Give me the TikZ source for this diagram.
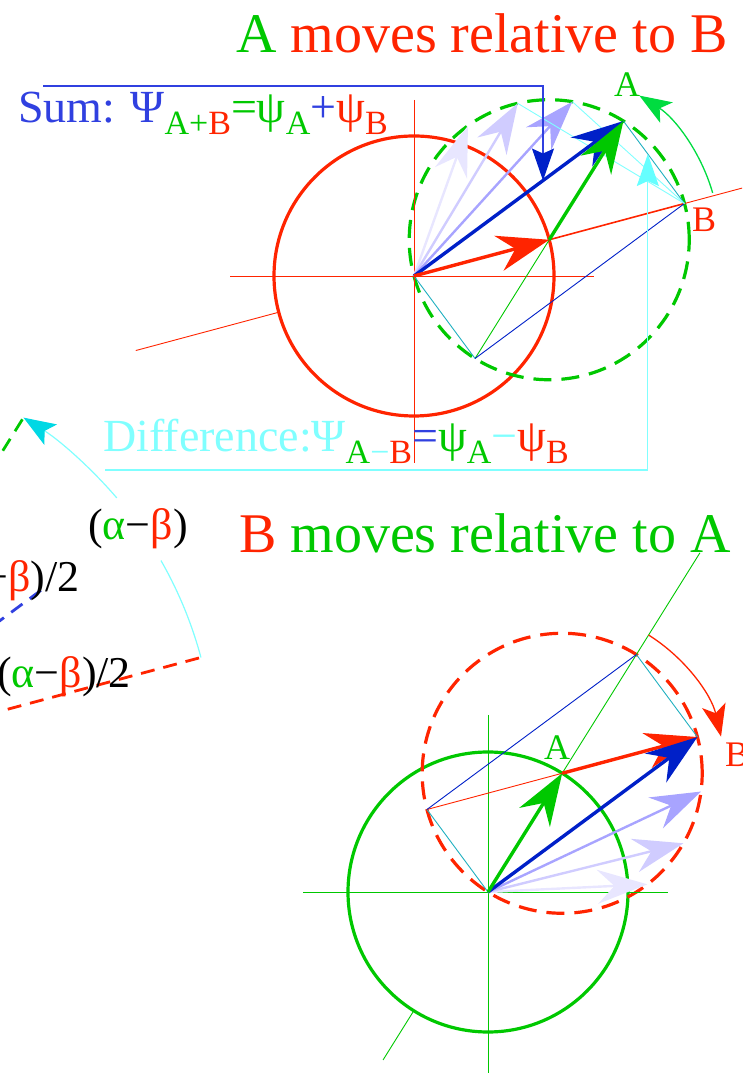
\documentclass[tikz,border=0pt]{standalone}
\usepackage{fontspec}
\setmainfont{Liberation Serif}
\usetikzlibrary{calc,arrows.meta}
\definecolor{phred}{HTML}{FF2400}
\definecolor{phgreen}{HTML}{00C800}
\definecolor{phblue}{HTML}{0020C8}
\definecolor{sumblue}{HTML}{3040E0}
\definecolor{diffcyan}{HTML}{80FFFF}
\definecolor{cyanhead}{HTML}{00D8E4}
\definecolor{diffteal}{HTML}{20B0C0}
\definecolor{arcgreen}{HTML}{00DC40}
\definecolor{fadeone}{HTML}{A8A4FF}
\definecolor{fadetwo}{HTML}{D0CCFF}
\definecolor{fadethree}{HTML}{E8E6FF}
\newcommand{\titlefont}{\fontsize{56}{60}\selectfont}
\newcommand{\labfont}{\fontsize{46}{50}\selectfont}
\newcommand{\angfont}{\fontsize{44}{48}\selectfont}
\newcommand{\ptfont}{\fontsize{36}{38}\selectfont}
\newcommand{\lowsub}[1]{\raisebox{-12pt}{\fontsize{34}{36}\selectfont #1}}

\begin{document}
\begin{tikzpicture}[x=1pt, y=1pt, every node/.style={inner sep=0pt},
  hair/.style={line width=0.9pt},
  ring/.style={line width=3.2pt},
  dashring/.style={line width=3.2pt, dash pattern=on 18pt off 10pt},
  dashray/.style={line width=2.8pt, dash pattern=on 14pt off 9pt},
  vec/.style={line width=3.4pt, -{Stealth[length=52pt, width=36pt, inset=17pt]}},
  fade/.style={line width=2.4pt, -{Stealth[length=50pt, width=34pt, inset=17pt]}},
  callout/.style={line width=1.2pt},
  turn/.style={line width=1.3pt, -{Stealth[length=32pt, width=24pt, inset=8pt]}}]
\useasboundingbox (0,0) rectangle (742,1073);
\clip (0,0) rectangle (742,1073);

\coordinate (otop) at (414,797);
\coordinate (btop) at ($(otop)+(15:140pt)$);
\coordinate (atop) at ($(btop)+(58:140pt)$);
\coordinate (ttop) at ($(otop)+(15:280pt)$);
\coordinate (dtop) at ($(btop)+(238:140pt)$);
\draw[phred, ring] (otop) circle[radius=140pt];
\draw[phgreen, dashring] (btop) circle[radius=140pt];
\draw[phred, hair] (230,797) -- (594,797);
\draw[phred, hair] (414,973) -- (414,610);
\draw[phred, hair] ($(otop)+(195:288pt)$) -- ($(otop)+(195:140pt)$);
\draw[phred, line width=1.6pt] (btop) -- (ttop);
\draw[phred, hair] (ttop) -- ($(otop)+(15:350pt)$);
\draw[phgreen, hair] (dtop) -- (btop);
\draw[diffteal, hair] (otop) -- (dtop);
\draw[diffteal, hair] (atop) -- (ttop);
\draw[phblue, hair] (dtop) -- (ttop);
\foreach \ang/\col/\n in {125.5/fadethree/3, 103/fadetwo/2, 80.5/fadeone/1} {
  \coordinate (ftop\n) at ($(btop)+(\ang:140pt)$);
  \draw[fade, \col] (otop) -- (ftop\n);
}
\draw[diffcyan, hair] (ftop2) -- (ttop);
\draw[diffcyan, hair] (ftop1) -- (ttop);
\draw[vec, phblue] (otop) -- (atop);
\draw[vec, phred] (otop) -- (btop);
\draw[vec, phgreen] (btop) -- (atop);

\coordinate (sumhit) at ($(otop)!0.616!(atop)$);
\coordinate (sumstart) at (43,987);
\draw[callout, sumblue, -{Stealth[length=32pt, width=22pt, inset=5pt, color=phblue]}] (sumstart) -| (sumhit);
\coordinate (diffhit) at ($(atop)!0.4!(ttop)$);
\coordinate (diffstart) at (105,603);
\draw[callout, diffcyan, -{Stealth[length=32pt, width=22pt, inset=5pt, color=diffcyan!80!cyan]}] (diffstart) -| (diffhit);
\draw[turn, arcgreen] ($(btop)+(16:170pt)$) arc[start angle=16, end angle=58, radius=170pt];

\node[text=phgreen, font=\ptfont] (alabtop) at (627,988) {A};
\node[text=phred, font=\ptfont] (blabtop) at (704,853) {B};
\node[anchor=base west, text=phred, font=\titlefont] (titletop) at (236,1020) {\textcolor{phgreen}{A} moves relative to B};
\node[anchor=base west, text=sumblue, font=\labfont] (sumlab) at (18,950)
  {Sum: Ψ\lowsub{\textcolor{phgreen}{A+}\textcolor{phred}{B}}\textcolor{phgreen}{=ψ}\lowsub{\textcolor{phgreen}{A}}+\textcolor{phred}{ψ}\lowsub{\textcolor{phred}{B}}};
\node[anchor=base west, text=diffcyan, font=\labfont] (difflab) at (103,621)
  {Difference:Ψ\lowsub{\textcolor{phgreen}{A}−\textcolor{phred}{B}}\textcolor{sumblue}{=}\textcolor{phgreen}{ψ}\lowsub{\textcolor{phgreen}{A}}−\textcolor{phred}{ψ}\lowsub{\textcolor{phred}{B}}};

\coordinate (oleft) at (-192.2,310.2);
\draw[phgreen, dashray] (oleft) -- ($(oleft)+(58:410pt)$);
\draw[sumblue, dashray] (oleft) -- ($(oleft)+(36.5:290pt)$);
\draw[phred, dashray] (oleft) -- ($(oleft)+(15:405pt)$);
\draw[diffcyan, callout] ($(oleft)+(15:407pt)$) arc[start angle=15, end angle=29.8, radius=407pt];
\draw[diffcyan, callout, -{Stealth[length=32pt, width=24pt, inset=7pt, color=cyanhead]}] ($(oleft)+(40.6:407pt)$) arc[start angle=40.6, end angle=58, radius=407pt];
\node[anchor=base west, font=\angfont] (angdiff) at (88,533) {(\textcolor{phgreen}{α}−\textcolor{phred}{β})};
\node[anchor=base east, font=\angfont] (halfup) at (80,481) {(\textcolor{phgreen}{α}−\textcolor{phred}{β})/2};
\node[anchor=base west, font=\angfont] (halflow) at (-3,385) {(\textcolor{phgreen}{α}−\textcolor{phred}{β})/2};

\coordinate (obot) at (488,181);
\coordinate (abot) at ($(obot)+(58:140pt)$);
\coordinate (bbot) at ($(abot)+(15:140pt)$);
\coordinate (dbot) at ($(abot)+(195:140pt)$);
\coordinate (tbot) at ($(obot)+(58:280pt)$);
\draw[phgreen, ring] (obot) circle[radius=140pt];
\draw[phred, dashring] (abot) circle[radius=140pt];
\draw[phgreen, hair] (303,181) -- (668,181);
\draw[phgreen, hair] (488,358) -- (488,0);
\draw[phgreen, hair] ($(obot)+(238:198pt)$) -- ($(obot)+(238:140pt)$);
\draw[phgreen, hair] (abot) -- ($(obot)+(58:400pt)$);
\draw[phred, hair] (dbot) -- (abot);
\draw[diffteal, hair] (obot) -- (dbot);
\draw[diffteal, hair] (tbot) -- (bbot);
\draw[phblue, hair] (dbot) -- (tbot);
\foreach \ang/\col/\n in {-52.5/fadethree/3, -30/fadetwo/2, -7.5/fadeone/1} {
  \coordinate (fbot\n) at ($(abot)+(\ang:140pt)$);
  \draw[fade, \col] (obot) -- (fbot\n);
}
\draw[vec, phred] (abot) -- (bbot);
\draw[vec, phblue] (obot) -- (bbot);
\draw[vec, phgreen] (obot) -- (abot);
\draw[turn, phred] ($(abot)+(58:163pt)$) arc[start angle=58, end angle=13, radius=163pt];

\node[text=phgreen, font=\ptfont] (alabbot) at (557,325) {A};
\node[text=phred, font=\ptfont] (blabbot) at (737,318) {B};
\node[anchor=base west, text=phgreen, font=\titlefont] (titlebot) at (239,520) {\textcolor{phred}{B} moves relative to A};
\end{tikzpicture}
\end{document}
